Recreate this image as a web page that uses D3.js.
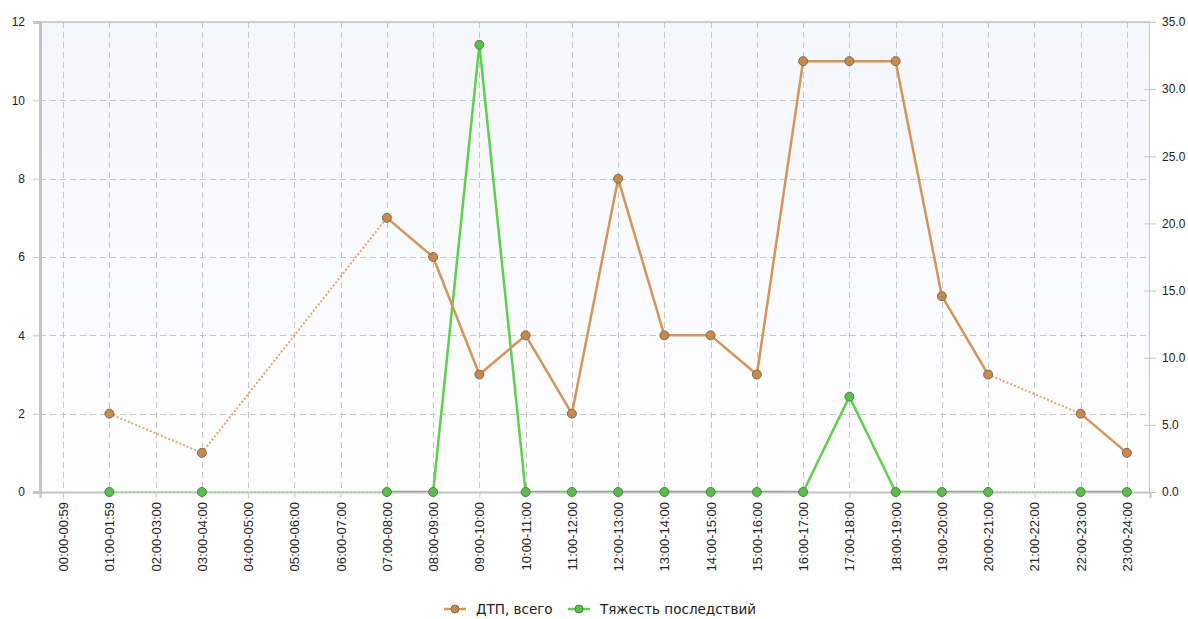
<!DOCTYPE html>
<html>
<head>
<meta charset="utf-8">
<script src="https://cdn.jsdelivr.net/npm/d3@7"></script>
<style>
  html, body { margin: 0; padding: 0; background: #ffffff; }
  svg { display: block; font-family: "DejaVu Sans", Verdana, sans-serif; }
</style>
</head>
<body>
<svg id="chart" width="1188" height="619"></svg>
<script>
// Hour intervals along the x axis
const hours = [
  "00:00-00:59", "01:00-01:59", "02:00-03:00", "03:00-04:00", "04:00-05:00",
  "05:00-06:00", "06:00-07:00", "07:00-08:00", "08:00-09:00", "09:00-10:00",
  "10:00-11:00", "11:00-12:00", "12:00-13:00", "13:00-14:00", "14:00-15:00",
  "15:00-16:00", "16:00-17:00", "17:00-18:00", "18:00-19:00", "19:00-20:00",
  "20:00-21:00", "21:00-22:00", "22:00-23:00", "23:00-24:00"
];
// Accidents total per hour (null = no data)
const accidents = [null, 2, null, 1, null, null, null, 7, 6, 3, 4, 2, 8, 4, 4, 3, 11, 11, 11, 5, 3, null, 2, 1];
// Severity of consequences per hour (right axis)
const severity = [null, 0, null, 0, null, null, null, 0, 0, 33.3, 0, 0, 0, 0, 0, 0, 0, 7.1, 0, 0, 0, null, 0, 0];

const leftTicks = [0, 2, 4, 6, 8, 10, 12];
const rightTicks = [0, 5, 10, 15, 20, 25, 30, 35];

const seriesNames = ["ДТП, всего", "Тяжесть последствий"];

const m = { left: 40, right: 1150, top: 22, bottom: 492 };

const svg = d3.select("#chart");

const x = d3.scalePoint().domain(hours).range([m.left, m.right]).padding(0.5);
const yL = d3.scaleLinear().domain([0, 12]).range([m.bottom, m.top]);
const yR = d3.scaleLinear().domain([0, 35]).range([m.bottom, m.top]);

// Plot background
const defs = svg.append("defs");
const grad = defs.append("linearGradient").attr("id", "bg").attr("x1", 0).attr("y1", 0).attr("x2", 0).attr("y2", 1);
grad.append("stop").attr("offset", "0%").attr("stop-color", "#f4f6fc");
grad.append("stop").attr("offset", "100%").attr("stop-color", "#ffffff");
defs.append("clipPath").attr("id", "plotClip").append("rect")
  .attr("x", m.left).attr("y", m.top).attr("width", m.right - m.left).attr("height", m.bottom - m.top);

svg.append("rect").attr("x", m.left).attr("y", m.top)
  .attr("width", m.right - m.left).attr("height", m.bottom - m.top)
  .attr("fill", "url(#bg)");

// Grid
const grid = svg.append("g").attr("stroke", "#c6c6c6").attr("stroke-width", 1).attr("stroke-dasharray", "6,4");
grid.selectAll("line.v").data(hours).join("line").attr("class", "v")
  .attr("x1", d => Math.round(x(d)) + 0.5).attr("x2", d => Math.round(x(d)) + 0.5)
  .attr("y1", m.top).attr("y2", m.bottom);
grid.selectAll("line.h").data(leftTicks.filter(t => t > 0 && t < 12)).join("line").attr("class", "h")
  .attr("x1", m.left).attr("x2", m.right)
  .attr("y1", d => Math.round(yL(d)) + 0.5).attr("y2", d => Math.round(yL(d)) + 0.5);

// Frame
svg.append("line").attr("x1", m.left).attr("x2", m.right).attr("y1", m.top).attr("y2", m.top)
  .attr("stroke", "#cfcfcf").attr("stroke-width", 2);
svg.append("line").attr("x1", m.right - 0.5).attr("x2", m.right - 0.5).attr("y1", m.top).attr("y2", m.bottom)
  .attr("stroke", "#c8c8c8");

// Left axis
const axL = d3.axisLeft(yL).tickValues(leftTicks).tickSize(7).tickPadding(8).tickFormat(d3.format("d"));
const gL = svg.append("g").attr("transform", `translate(${m.left},0)`).call(axL);
gL.select(".domain").attr("stroke", "#c4c4c4").attr("stroke-width", 3);
gL.selectAll(".tick line").attr("stroke", "#c4c4c4");
gL.selectAll("text").attr("font-size", 12).attr("fill", "#222");

// Right axis
const axR = d3.axisRight(yR).tickValues(rightTicks).tickSize(6).tickPadding(6).tickFormat(d3.format(".1f"));
const gR = svg.append("g").attr("transform", `translate(${m.right},0)`).call(axR);
gR.select(".domain").remove();
gR.selectAll(".tick line").attr("x1", -6).attr("stroke", "#c4c4c4");
gR.selectAll("text").attr("font-size", 12).attr("fill", "#222");

// Bottom axis
const axB = d3.axisBottom(x).tickSize(6).tickPadding(4);
const gB = svg.append("g").attr("transform", `translate(0,${m.bottom})`).call(axB);
gB.select(".domain").attr("stroke", "#c4c4c4").attr("stroke-width", 2);
gB.selectAll(".tick line").attr("stroke", "#c4c4c4");
gB.selectAll("text").attr("font-size", 13).attr("fill", "#222")
  .attr("transform", "rotate(-90)").attr("text-anchor", "end")
  .attr("x", -10).attr("y", 0).attr("dy", "0.35em");

// Series drawing: solid between neighbouring values, dotted across missing hours
function drawSeries(values, yScale, color, dotColor, fill, stroke) {
  const pts = values.map((v, i) => ({ i, v })).filter(p => p.v !== null);
  const g = svg.append("g");
  const lines = g.append("g").attr("clip-path", "url(#plotClip)");
  for (let k = 1; k < pts.length; k++) {
    const a = pts[k - 1], b = pts[k];
    const gap = b.i - a.i > 1;
    lines.append("line")
      .attr("x1", x(hours[a.i])).attr("y1", yScale(a.v))
      .attr("x2", x(hours[b.i])).attr("y2", yScale(b.v))
      .attr("stroke", gap ? dotColor : color)
      .attr("stroke-width", gap ? 2 : 2.5)
      .attr("stroke-dasharray", gap ? "2,2" : null)
      .attr("stroke-linecap", "butt");
  }
  g.selectAll("circle").data(pts).join("circle")
    .attr("cx", p => x(hours[p.i])).attr("cy", p => yScale(p.v))
    .attr("r", 4.5).attr("fill", fill).attr("stroke", stroke).attr("stroke-width", 1);
}

drawSeries(severity, yR, "#5fcf4f", "#8fdc84", "#58c04a", "#4f7f4a");
drawSeries(accidents, yL, "#d4955a", "#e6a56a", "#c98a47", "#7a6a5a");

// Legend
const legend = [
  { name: seriesNames[0], line: "#d4955a", fill: "#c98a47", stroke: "#7a6a5a", x: 444 },
  { name: seriesNames[1], line: "#5fcf4f", fill: "#58c04a", stroke: "#4f7f4a", x: 568 }
];
const lg = svg.append("g");
legend.forEach(d => {
  const it = lg.append("g").attr("transform", `translate(${d.x},609)`);
  it.append("line").attr("x1", 0).attr("x2", 22).attr("y1", 0).attr("y2", 0)
    .attr("stroke", d.line).attr("stroke-width", 2.5);
  it.append("circle").attr("cx", 11).attr("cy", 0).attr("r", 4)
    .attr("fill", d.fill).attr("stroke", d.stroke);
  it.append("text").attr("x", 32).attr("y", 0).attr("dy", "0.35em")
    .attr("font-size", 13.5).attr("fill", "#222").text(d.name);
});
</script>
</body>
</html>
